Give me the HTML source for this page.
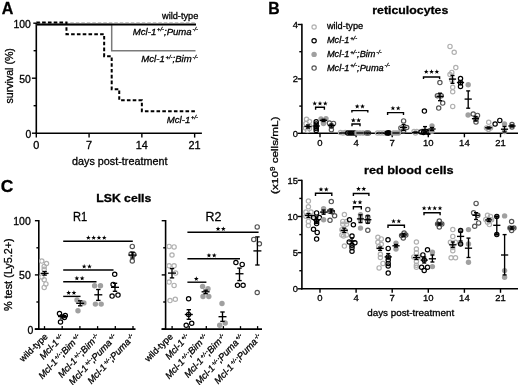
<!DOCTYPE html>
<html><head><meta charset="utf-8"><style>
html,body{margin:0;padding:0;background:#fff;overflow:hidden;}
svg{display:block;font-family:"Liberation Sans", sans-serif;will-change:transform;}
text{stroke:#000;stroke-width:0.3px;}
</style></head><body>
<svg width="520" height="385" viewBox="0 0 520 385">
<rect width="520" height="385" fill="#fff"/>
<text x="1.80" y="14.10" font-size="17" text-anchor="start" font-weight="bold" font-style="normal" fill="#000" textLength="11.6" lengthAdjust="spacingAndGlyphs" >A</text>
<line x1="36.30" y1="23.00" x2="36.30" y2="134.05" stroke="#000" stroke-width="1.6" />
<line x1="35.50" y1="133.30" x2="201.90" y2="133.30" stroke="#000" stroke-width="1.6" />
<line x1="31.90" y1="133.20" x2="36.30" y2="133.20" stroke="#000" stroke-width="1.4" />
<line x1="31.90" y1="78.20" x2="36.30" y2="78.20" stroke="#000" stroke-width="1.4" />
<line x1="33.30" y1="23.20" x2="36.30" y2="23.20" stroke="#000" stroke-width="1.4" />
<line x1="33.60" y1="105.70" x2="36.30" y2="105.70" stroke="#000" stroke-width="1.4" />
<line x1="33.60" y1="50.70" x2="36.30" y2="50.70" stroke="#000" stroke-width="1.4" />
<line x1="36.30" y1="133.30" x2="36.30" y2="137.60" stroke="#000" stroke-width="1.4" />
<line x1="89.08" y1="133.30" x2="89.08" y2="137.60" stroke="#000" stroke-width="1.4" />
<line x1="141.86" y1="133.30" x2="141.86" y2="137.60" stroke="#000" stroke-width="1.4" />
<line x1="194.64" y1="133.30" x2="194.64" y2="137.60" stroke="#000" stroke-width="1.4" />
<text x="31.30" y="137.70" font-size="10.4" text-anchor="end" font-weight="normal" font-style="normal" fill="#000" >0</text>
<text x="30.80" y="82.50" font-size="10.4" text-anchor="end" font-weight="normal" font-style="normal" fill="#000" >50</text>
<text x="30.80" y="27.50" font-size="10.4" text-anchor="end" font-weight="normal" font-style="normal" fill="#000" >100</text>
<text x="36.30" y="148.50" font-size="10.9" text-anchor="middle" font-weight="normal" font-style="normal" fill="#000" >0</text>
<text x="89.08" y="148.50" font-size="10.9" text-anchor="middle" font-weight="normal" font-style="normal" fill="#000" >7</text>
<text x="141.86" y="148.50" font-size="10.9" text-anchor="middle" font-weight="normal" font-style="normal" fill="#000" >14</text>
<text x="194.64" y="148.50" font-size="10.9" text-anchor="middle" font-weight="normal" font-style="normal" fill="#000" >21</text>
<text x="119.70" y="165.00" font-size="10.8" text-anchor="middle" font-weight="normal" font-style="normal" fill="#000" >days post-treatment</text>
<text transform="translate(13.2,75.8) rotate(-90)" font-size="10.6" text-anchor="middle">survival (%)</text>
<line x1="37.30" y1="22.50" x2="195.50" y2="22.50" stroke="#c4c4c4" stroke-width="1.2" stroke-dasharray="3.5 2"/>
<polyline points="36.30,24.40 111.70,24.40 111.70,50.70 195.50,50.70" fill="none" stroke="#7a7a7a" stroke-width="1.5" />
<line x1="36.30" y1="24.60" x2="196.00" y2="24.60" stroke="#000" stroke-width="2.0" />
<polyline points="36.30,22.60 66.46,22.60 66.46,34.20 104.16,34.20 104.16,56.20 111.70,56.20 111.70,89.20 119.24,89.20 119.24,100.20 141.86,100.20 141.86,111.20 195.50,111.20" fill="none" stroke="#000" stroke-width="2.0" stroke-dasharray="3.6 2.2"/>
<text x="198.30" y="19.20" font-size="9.2" text-anchor="end" font-weight="normal" font-style="normal" fill="#000" >wild-type</text>
<text x="198.00" y="34.60" font-size="9.6" text-anchor="end" font-weight="normal" font-style="italic" fill="#000" >Mcl-1<tspan font-size="5.8" dy="-3.2" dx="0.8">+/-</tspan><tspan dy="3.2">;Puma</tspan><tspan font-size="5.8" dy="-3.2" dx="0.8">-/-</tspan></text>
<text x="198.00" y="61.80" font-size="9.6" text-anchor="end" font-weight="normal" font-style="italic" fill="#000" >Mcl-1<tspan font-size="5.8" dy="-3.2" dx="0.8">+/-</tspan><tspan dy="3.2">;Bim</tspan><tspan font-size="5.8" dy="-3.2" dx="0.8">-/-</tspan></text>
<text x="198.00" y="122.60" font-size="9.6" text-anchor="end" font-weight="normal" font-style="italic" fill="#000" >Mcl-1<tspan font-size="5.8" dy="-3.2" dx="0.8">+/-</tspan></text>
<text x="268.20" y="14.10" font-size="17" text-anchor="start" font-weight="bold" font-style="normal" fill="#000" textLength="11.4" lengthAdjust="spacingAndGlyphs" >B</text>
<text x="410.30" y="14.00" font-size="11.4" text-anchor="middle" font-weight="bold" font-style="normal" fill="#000" textLength="76" lengthAdjust="spacingAndGlyphs" >reticulocytes</text>
<text x="408.80" y="174.20" font-size="10.8" text-anchor="middle" font-weight="bold" font-style="normal" fill="#000" textLength="89.5" lengthAdjust="spacingAndGlyphs" >red blood cells</text>
<line x1="301.90" y1="23.80" x2="301.90" y2="134.05" stroke="#000" stroke-width="1.6" />
<line x1="301.10" y1="133.30" x2="518.00" y2="133.30" stroke="#000" stroke-width="1.6" />
<line x1="297.60" y1="133.30" x2="301.90" y2="133.30" stroke="#000" stroke-width="1.4" />
<text x="297.90" y="136.60" font-size="9.3" text-anchor="end" font-weight="normal" font-style="normal" fill="#000" >0</text>
<line x1="297.60" y1="78.90" x2="301.90" y2="78.90" stroke="#000" stroke-width="1.4" />
<text x="297.90" y="82.20" font-size="9.3" text-anchor="end" font-weight="normal" font-style="normal" fill="#000" >2</text>
<line x1="297.60" y1="24.50" x2="301.90" y2="24.50" stroke="#000" stroke-width="1.4" />
<text x="297.90" y="27.80" font-size="9.3" text-anchor="end" font-weight="normal" font-style="normal" fill="#000" >4</text>
<line x1="299.30" y1="106.10" x2="301.90" y2="106.10" stroke="#000" stroke-width="1.4" />
<line x1="299.30" y1="51.70" x2="301.90" y2="51.70" stroke="#000" stroke-width="1.4" />
<line x1="320.00" y1="133.30" x2="320.00" y2="137.30" stroke="#000" stroke-width="1.4" />
<text x="320.00" y="145.50" font-size="9.5" text-anchor="middle" font-weight="normal" font-style="normal" fill="#000" >0</text>
<line x1="356.10" y1="133.30" x2="356.10" y2="137.30" stroke="#000" stroke-width="1.4" />
<text x="356.10" y="145.50" font-size="9.5" text-anchor="middle" font-weight="normal" font-style="normal" fill="#000" >4</text>
<line x1="392.20" y1="133.30" x2="392.20" y2="137.30" stroke="#000" stroke-width="1.4" />
<text x="392.20" y="145.50" font-size="9.5" text-anchor="middle" font-weight="normal" font-style="normal" fill="#000" >7</text>
<line x1="428.30" y1="133.30" x2="428.30" y2="137.30" stroke="#000" stroke-width="1.4" />
<text x="428.30" y="145.50" font-size="9.5" text-anchor="middle" font-weight="normal" font-style="normal" fill="#000" >10</text>
<line x1="464.40" y1="133.30" x2="464.40" y2="137.30" stroke="#000" stroke-width="1.4" />
<text x="464.40" y="145.50" font-size="9.5" text-anchor="middle" font-weight="normal" font-style="normal" fill="#000" >14</text>
<line x1="500.50" y1="133.30" x2="500.50" y2="137.30" stroke="#000" stroke-width="1.4" />
<text x="500.50" y="145.50" font-size="9.5" text-anchor="middle" font-weight="normal" font-style="normal" fill="#000" >21</text>
<line x1="301.90" y1="179.65" x2="301.90" y2="289.55" stroke="#000" stroke-width="1.6" />
<line x1="301.10" y1="288.80" x2="518.00" y2="288.80" stroke="#000" stroke-width="1.6" />
<line x1="297.60" y1="288.80" x2="301.90" y2="288.80" stroke="#000" stroke-width="1.4" />
<text x="297.90" y="292.10" font-size="9.3" text-anchor="end" font-weight="normal" font-style="normal" fill="#000" >0</text>
<line x1="297.60" y1="252.65" x2="301.90" y2="252.65" stroke="#000" stroke-width="1.4" />
<text x="297.90" y="255.95" font-size="9.3" text-anchor="end" font-weight="normal" font-style="normal" fill="#000" >5</text>
<line x1="297.60" y1="216.50" x2="301.90" y2="216.50" stroke="#000" stroke-width="1.4" />
<text x="297.90" y="219.80" font-size="9.3" text-anchor="end" font-weight="normal" font-style="normal" fill="#000" >10</text>
<line x1="297.60" y1="180.35" x2="301.90" y2="180.35" stroke="#000" stroke-width="1.4" />
<text x="297.90" y="183.65" font-size="9.3" text-anchor="end" font-weight="normal" font-style="normal" fill="#000" >15</text>
<line x1="299.30" y1="270.73" x2="301.90" y2="270.73" stroke="#000" stroke-width="1.4" />
<line x1="299.30" y1="234.58" x2="301.90" y2="234.58" stroke="#000" stroke-width="1.4" />
<line x1="299.30" y1="198.43" x2="301.90" y2="198.43" stroke="#000" stroke-width="1.4" />
<line x1="320.00" y1="288.80" x2="320.00" y2="292.80" stroke="#000" stroke-width="1.4" />
<text x="320.00" y="301.20" font-size="9.5" text-anchor="middle" font-weight="normal" font-style="normal" fill="#000" >0</text>
<line x1="356.10" y1="288.80" x2="356.10" y2="292.80" stroke="#000" stroke-width="1.4" />
<text x="356.10" y="301.20" font-size="9.5" text-anchor="middle" font-weight="normal" font-style="normal" fill="#000" >4</text>
<line x1="392.20" y1="288.80" x2="392.20" y2="292.80" stroke="#000" stroke-width="1.4" />
<text x="392.20" y="301.20" font-size="9.5" text-anchor="middle" font-weight="normal" font-style="normal" fill="#000" >7</text>
<line x1="428.30" y1="288.80" x2="428.30" y2="292.80" stroke="#000" stroke-width="1.4" />
<text x="428.30" y="301.20" font-size="9.5" text-anchor="middle" font-weight="normal" font-style="normal" fill="#000" >10</text>
<line x1="464.40" y1="288.80" x2="464.40" y2="292.80" stroke="#000" stroke-width="1.4" />
<text x="464.40" y="301.20" font-size="9.5" text-anchor="middle" font-weight="normal" font-style="normal" fill="#000" >14</text>
<line x1="500.50" y1="288.80" x2="500.50" y2="292.80" stroke="#000" stroke-width="1.4" />
<text x="500.50" y="301.20" font-size="9.5" text-anchor="middle" font-weight="normal" font-style="normal" fill="#000" >21</text>
<text x="410.70" y="316.20" font-size="9.8" text-anchor="middle" font-weight="normal" font-style="normal" fill="#000" textLength="87" lengthAdjust="spacingAndGlyphs" >days post-treatment</text>
<text transform="translate(278.4,155.2) rotate(-90)" font-size="9.9" text-anchor="middle" textLength="77.4" lengthAdjust="spacingAndGlyphs">(x10<tspan font-size="6.8" dy="-3.7">9</tspan><tspan dy="3.7"> cells/mL)</tspan></text>
<circle cx="306.50" cy="119.30" r="2.15" fill="none" stroke="#b0b0b0" stroke-width="1.2"/>
<circle cx="309.50" cy="121.50" r="2.15" fill="none" stroke="#b0b0b0" stroke-width="1.2"/>
<circle cx="306.00" cy="123.50" r="2.15" fill="none" stroke="#b0b0b0" stroke-width="1.2"/>
<circle cx="309.50" cy="126.00" r="2.15" fill="none" stroke="#b0b0b0" stroke-width="1.2"/>
<circle cx="305.50" cy="128.00" r="2.15" fill="none" stroke="#b0b0b0" stroke-width="1.2"/>
<circle cx="309.50" cy="128.50" r="2.15" fill="none" stroke="#b0b0b0" stroke-width="1.2"/>
<circle cx="307.50" cy="130.50" r="2.15" fill="none" stroke="#b0b0b0" stroke-width="1.2"/>
<line x1="304.40" y1="126.50" x2="311.60" y2="126.50" stroke="#000" stroke-width="1.35" />
<line x1="308.00" y1="125.00" x2="308.00" y2="128.00" stroke="#000" stroke-width="1.35" />
<line x1="306.00" y1="125.00" x2="310.00" y2="125.00" stroke="#000" stroke-width="1.35" />
<line x1="306.00" y1="128.00" x2="310.00" y2="128.00" stroke="#000" stroke-width="1.35" />
<circle cx="316.20" cy="121.70" r="2.15" fill="none" stroke="#000" stroke-width="1.2"/>
<circle cx="316.20" cy="124.00" r="2.15" fill="none" stroke="#000" stroke-width="1.2"/>
<circle cx="316.20" cy="126.90" r="2.15" fill="none" stroke="#000" stroke-width="1.2"/>
<circle cx="316.20" cy="128.60" r="2.15" fill="none" stroke="#000" stroke-width="1.2"/>
<circle cx="316.20" cy="130.50" r="2.15" fill="none" stroke="#000" stroke-width="1.2"/>
<line x1="312.60" y1="126.00" x2="319.80" y2="126.00" stroke="#000" stroke-width="1.35" />
<line x1="316.20" y1="124.00" x2="316.20" y2="128.00" stroke="#000" stroke-width="1.35" />
<line x1="314.20" y1="124.00" x2="318.20" y2="124.00" stroke="#000" stroke-width="1.35" />
<line x1="314.20" y1="128.00" x2="318.20" y2="128.00" stroke="#000" stroke-width="1.35" />
<circle cx="321.00" cy="118.90" r="2.70" fill="#a0a0a0"/>
<circle cx="326.00" cy="118.60" r="2.70" fill="#a0a0a0"/>
<circle cx="323.50" cy="122.40" r="2.70" fill="#a0a0a0"/>
<circle cx="323.50" cy="123.50" r="2.70" fill="#a0a0a0"/>
<line x1="319.90" y1="120.30" x2="327.10" y2="120.30" stroke="#000" stroke-width="1.35" />
<line x1="323.50" y1="119.30" x2="323.50" y2="121.50" stroke="#000" stroke-width="1.35" />
<line x1="321.50" y1="119.30" x2="325.50" y2="119.30" stroke="#000" stroke-width="1.35" />
<line x1="321.50" y1="121.50" x2="325.50" y2="121.50" stroke="#000" stroke-width="1.35" />
<circle cx="329.40" cy="123.10" r="2.15" fill="none" stroke="#555" stroke-width="1.2"/>
<circle cx="333.50" cy="123.40" r="2.15" fill="none" stroke="#555" stroke-width="1.2"/>
<circle cx="331.40" cy="126.20" r="2.15" fill="none" stroke="#555" stroke-width="1.2"/>
<circle cx="331.40" cy="129.70" r="2.15" fill="none" stroke="#555" stroke-width="1.2"/>
<line x1="327.80" y1="125.50" x2="335.00" y2="125.50" stroke="#000" stroke-width="1.35" />
<line x1="331.40" y1="124.00" x2="331.40" y2="127.00" stroke="#000" stroke-width="1.35" />
<line x1="329.40" y1="124.00" x2="333.40" y2="124.00" stroke="#000" stroke-width="1.35" />
<line x1="329.40" y1="127.00" x2="333.40" y2="127.00" stroke="#000" stroke-width="1.35" />
<circle cx="340.50" cy="132.50" r="2.15" fill="none" stroke="#b0b0b0" stroke-width="1.2"/>
<circle cx="343.00" cy="133.00" r="2.15" fill="none" stroke="#b0b0b0" stroke-width="1.2"/>
<circle cx="345.20" cy="132.50" r="2.15" fill="none" stroke="#b0b0b0" stroke-width="1.2"/>
<line x1="339.40" y1="133.00" x2="346.60" y2="133.00" stroke="#000" stroke-width="1.35" />
<circle cx="347.70" cy="133.00" r="2.15" fill="none" stroke="#000" stroke-width="1.2"/>
<circle cx="350.00" cy="133.00" r="2.15" fill="none" stroke="#000" stroke-width="1.2"/>
<circle cx="352.20" cy="133.00" r="2.15" fill="none" stroke="#000" stroke-width="1.2"/>
<circle cx="354.50" cy="133.00" r="2.15" fill="none" stroke="#000" stroke-width="1.2"/>
<line x1="347.40" y1="133.00" x2="354.60" y2="133.00" stroke="#000" stroke-width="1.35" />
<circle cx="357.00" cy="133.00" r="2.70" fill="#a0a0a0"/>
<circle cx="360.00" cy="133.00" r="2.70" fill="#a0a0a0"/>
<circle cx="363.00" cy="133.00" r="2.70" fill="#a0a0a0"/>
<line x1="356.40" y1="133.00" x2="363.60" y2="133.00" stroke="#000" stroke-width="1.35" />
<circle cx="366.50" cy="133.00" r="2.15" fill="none" stroke="#555" stroke-width="1.2"/>
<circle cx="368.50" cy="133.00" r="2.15" fill="none" stroke="#555" stroke-width="1.2"/>
<line x1="363.90" y1="133.00" x2="371.10" y2="133.00" stroke="#000" stroke-width="1.35" />
<circle cx="377.50" cy="133.00" r="2.15" fill="none" stroke="#b0b0b0" stroke-width="1.2"/>
<circle cx="380.50" cy="133.00" r="2.15" fill="none" stroke="#b0b0b0" stroke-width="1.2"/>
<circle cx="383.50" cy="133.00" r="2.15" fill="none" stroke="#b0b0b0" stroke-width="1.2"/>
<line x1="376.90" y1="133.00" x2="384.10" y2="133.00" stroke="#000" stroke-width="1.35" />
<circle cx="387.20" cy="133.00" r="2.85" fill="#000"/>
<circle cx="388.80" cy="132.80" r="2.85" fill="#000"/>
<circle cx="393.50" cy="133.00" r="2.70" fill="#a0a0a0"/>
<circle cx="396.00" cy="133.00" r="2.70" fill="#a0a0a0"/>
<circle cx="398.50" cy="133.00" r="2.70" fill="#a0a0a0"/>
<line x1="392.40" y1="133.00" x2="399.60" y2="133.00" stroke="#000" stroke-width="1.35" />
<circle cx="403.60" cy="120.90" r="2.15" fill="none" stroke="#555" stroke-width="1.2"/>
<circle cx="400.90" cy="127.90" r="2.15" fill="none" stroke="#555" stroke-width="1.2"/>
<circle cx="406.70" cy="127.50" r="2.15" fill="none" stroke="#555" stroke-width="1.2"/>
<circle cx="403.60" cy="131.00" r="2.15" fill="none" stroke="#555" stroke-width="1.2"/>
<line x1="400.00" y1="127.50" x2="407.20" y2="127.50" stroke="#000" stroke-width="1.35" />
<line x1="403.60" y1="124.50" x2="403.60" y2="130.50" stroke="#000" stroke-width="1.35" />
<line x1="401.60" y1="124.50" x2="405.60" y2="124.50" stroke="#000" stroke-width="1.35" />
<line x1="401.60" y1="130.50" x2="405.60" y2="130.50" stroke="#000" stroke-width="1.35" />
<circle cx="414.00" cy="131.50" r="2.15" fill="none" stroke="#b0b0b0" stroke-width="1.2"/>
<circle cx="416.80" cy="131.50" r="2.15" fill="none" stroke="#b0b0b0" stroke-width="1.2"/>
<circle cx="415.50" cy="133.00" r="2.15" fill="none" stroke="#b0b0b0" stroke-width="1.2"/>
<line x1="411.90" y1="132.50" x2="419.10" y2="132.50" stroke="#000" stroke-width="1.35" />
<line x1="415.50" y1="132.00" x2="415.50" y2="133.00" stroke="#000" stroke-width="1.35" />
<line x1="413.50" y1="132.00" x2="417.50" y2="132.00" stroke="#000" stroke-width="1.35" />
<line x1="413.50" y1="133.00" x2="417.50" y2="133.00" stroke="#000" stroke-width="1.35" />
<circle cx="424.40" cy="111.10" r="2.15" fill="none" stroke="#000" stroke-width="1.2"/>
<circle cx="421.00" cy="132.00" r="2.15" fill="none" stroke="#000" stroke-width="1.2"/>
<circle cx="423.50" cy="132.50" r="2.15" fill="none" stroke="#000" stroke-width="1.2"/>
<circle cx="426.00" cy="132.00" r="2.15" fill="none" stroke="#000" stroke-width="1.2"/>
<circle cx="428.50" cy="132.50" r="2.15" fill="none" stroke="#000" stroke-width="1.2"/>
<line x1="421.40" y1="129.50" x2="428.60" y2="129.50" stroke="#000" stroke-width="1.35" />
<line x1="425.00" y1="126.60" x2="425.00" y2="132.50" stroke="#000" stroke-width="1.35" />
<line x1="423.00" y1="126.60" x2="427.00" y2="126.60" stroke="#000" stroke-width="1.35" />
<line x1="423.00" y1="132.50" x2="427.00" y2="132.50" stroke="#000" stroke-width="1.35" />
<circle cx="432.00" cy="126.00" r="2.70" fill="#a0a0a0"/>
<circle cx="432.00" cy="131.30" r="2.70" fill="#a0a0a0"/>
<line x1="428.40" y1="129.00" x2="435.60" y2="129.00" stroke="#000" stroke-width="1.35" />
<line x1="432.00" y1="127.50" x2="432.00" y2="130.50" stroke="#000" stroke-width="1.35" />
<line x1="430.00" y1="127.50" x2="434.00" y2="127.50" stroke="#000" stroke-width="1.35" />
<line x1="430.00" y1="130.50" x2="434.00" y2="130.50" stroke="#000" stroke-width="1.35" />
<circle cx="439.90" cy="82.60" r="2.15" fill="none" stroke="#555" stroke-width="1.2"/>
<circle cx="437.40" cy="95.70" r="2.15" fill="none" stroke="#555" stroke-width="1.2"/>
<circle cx="441.20" cy="95.70" r="2.15" fill="none" stroke="#555" stroke-width="1.2"/>
<circle cx="442.70" cy="103.10" r="2.15" fill="none" stroke="#555" stroke-width="1.2"/>
<circle cx="438.70" cy="108.10" r="2.15" fill="none" stroke="#555" stroke-width="1.2"/>
<line x1="436.40" y1="96.30" x2="443.60" y2="96.30" stroke="#000" stroke-width="1.35" />
<line x1="440.00" y1="93.20" x2="440.00" y2="100.70" stroke="#000" stroke-width="1.35" />
<line x1="438.00" y1="93.20" x2="442.00" y2="93.20" stroke="#000" stroke-width="1.35" />
<line x1="438.00" y1="100.70" x2="442.00" y2="100.70" stroke="#000" stroke-width="1.35" />
<circle cx="450.00" cy="46.40" r="2.15" fill="none" stroke="#b0b0b0" stroke-width="1.2"/>
<circle cx="454.20" cy="52.20" r="2.15" fill="none" stroke="#b0b0b0" stroke-width="1.2"/>
<circle cx="455.80" cy="67.60" r="2.15" fill="none" stroke="#b0b0b0" stroke-width="1.2"/>
<circle cx="451.80" cy="72.40" r="2.15" fill="none" stroke="#b0b0b0" stroke-width="1.2"/>
<circle cx="450.00" cy="74.50" r="2.15" fill="none" stroke="#b0b0b0" stroke-width="1.2"/>
<circle cx="451.80" cy="80.00" r="2.15" fill="none" stroke="#b0b0b0" stroke-width="1.2"/>
<circle cx="452.70" cy="87.30" r="2.15" fill="none" stroke="#b0b0b0" stroke-width="1.2"/>
<circle cx="452.70" cy="91.80" r="2.15" fill="none" stroke="#b0b0b0" stroke-width="1.2"/>
<circle cx="452.70" cy="106.40" r="2.15" fill="none" stroke="#b0b0b0" stroke-width="1.2"/>
<line x1="448.90" y1="79.10" x2="456.10" y2="79.10" stroke="#000" stroke-width="1.35" />
<line x1="452.50" y1="75.50" x2="452.50" y2="83.30" stroke="#000" stroke-width="1.35" />
<line x1="450.50" y1="75.50" x2="454.50" y2="75.50" stroke="#000" stroke-width="1.35" />
<line x1="450.50" y1="83.30" x2="454.50" y2="83.30" stroke="#000" stroke-width="1.35" />
<circle cx="460.50" cy="78.50" r="2.15" fill="none" stroke="#000" stroke-width="1.2"/>
<circle cx="460.50" cy="82.70" r="2.15" fill="none" stroke="#000" stroke-width="1.2"/>
<circle cx="460.50" cy="86.40" r="2.15" fill="none" stroke="#000" stroke-width="1.2"/>
<line x1="456.90" y1="82.50" x2="464.10" y2="82.50" stroke="#000" stroke-width="1.35" />
<line x1="460.50" y1="80.50" x2="460.50" y2="84.50" stroke="#000" stroke-width="1.35" />
<line x1="458.50" y1="80.50" x2="462.50" y2="80.50" stroke="#000" stroke-width="1.35" />
<line x1="458.50" y1="84.50" x2="462.50" y2="84.50" stroke="#000" stroke-width="1.35" />
<circle cx="468.20" cy="84.70" r="2.70" fill="#a0a0a0"/>
<circle cx="468.10" cy="115.00" r="2.70" fill="#a0a0a0"/>
<line x1="464.60" y1="99.10" x2="471.80" y2="99.10" stroke="#000" stroke-width="1.35" />
<line x1="468.20" y1="90.90" x2="468.20" y2="108.20" stroke="#000" stroke-width="1.35" />
<line x1="466.20" y1="90.90" x2="470.20" y2="90.90" stroke="#000" stroke-width="1.35" />
<line x1="466.20" y1="108.20" x2="470.20" y2="108.20" stroke="#000" stroke-width="1.35" />
<circle cx="473.20" cy="114.00" r="2.15" fill="none" stroke="#555" stroke-width="1.2"/>
<circle cx="477.50" cy="115.40" r="2.15" fill="none" stroke="#555" stroke-width="1.2"/>
<circle cx="476.00" cy="118.70" r="2.15" fill="none" stroke="#555" stroke-width="1.2"/>
<circle cx="476.00" cy="122.00" r="2.15" fill="none" stroke="#555" stroke-width="1.2"/>
<line x1="471.90" y1="118.70" x2="479.10" y2="118.70" stroke="#000" stroke-width="1.35" />
<line x1="475.50" y1="116.50" x2="475.50" y2="121.00" stroke="#000" stroke-width="1.35" />
<line x1="473.50" y1="116.50" x2="477.50" y2="116.50" stroke="#000" stroke-width="1.35" />
<line x1="473.50" y1="121.00" x2="477.50" y2="121.00" stroke="#000" stroke-width="1.35" />
<circle cx="488.70" cy="122.20" r="2.15" fill="none" stroke="#b0b0b0" stroke-width="1.2"/>
<circle cx="486.50" cy="128.00" r="2.15" fill="none" stroke="#b0b0b0" stroke-width="1.2"/>
<circle cx="490.50" cy="128.00" r="2.15" fill="none" stroke="#b0b0b0" stroke-width="1.2"/>
<circle cx="488.50" cy="129.50" r="2.15" fill="none" stroke="#b0b0b0" stroke-width="1.2"/>
<line x1="485.00" y1="127.80" x2="492.20" y2="127.80" stroke="#000" stroke-width="1.35" />
<line x1="488.60" y1="127.00" x2="488.60" y2="128.80" stroke="#000" stroke-width="1.35" />
<line x1="486.60" y1="127.00" x2="490.60" y2="127.00" stroke="#000" stroke-width="1.35" />
<line x1="486.60" y1="128.80" x2="490.60" y2="128.80" stroke="#000" stroke-width="1.35" />
<circle cx="495.10" cy="124.00" r="2.15" fill="none" stroke="#000" stroke-width="1.2"/>
<circle cx="499.80" cy="120.40" r="2.15" fill="none" stroke="#000" stroke-width="1.2"/>
<circle cx="504.50" cy="124.00" r="2.70" fill="#a0a0a0"/>
<circle cx="504.50" cy="131.50" r="2.70" fill="#a0a0a0"/>
<line x1="500.90" y1="129.20" x2="508.10" y2="129.20" stroke="#000" stroke-width="1.35" />
<line x1="504.50" y1="126.50" x2="504.50" y2="132.00" stroke="#000" stroke-width="1.35" />
<line x1="502.50" y1="126.50" x2="506.50" y2="126.50" stroke="#000" stroke-width="1.35" />
<line x1="502.50" y1="132.00" x2="506.50" y2="132.00" stroke="#000" stroke-width="1.35" />
<circle cx="512.00" cy="124.50" r="2.15" fill="none" stroke="#555" stroke-width="1.2"/>
<circle cx="512.00" cy="127.00" r="2.15" fill="none" stroke="#555" stroke-width="1.2"/>
<line x1="508.40" y1="126.00" x2="515.60" y2="126.00" stroke="#000" stroke-width="1.35" />
<line x1="512.00" y1="125.00" x2="512.00" y2="127.00" stroke="#000" stroke-width="1.35" />
<line x1="510.00" y1="125.00" x2="514.00" y2="125.00" stroke="#000" stroke-width="1.35" />
<line x1="510.00" y1="127.00" x2="514.00" y2="127.00" stroke="#000" stroke-width="1.35" />
<circle cx="308.40" cy="201.10" r="2.15" fill="none" stroke="#b0b0b0" stroke-width="1.2"/>
<circle cx="308.40" cy="206.70" r="2.15" fill="none" stroke="#b0b0b0" stroke-width="1.2"/>
<circle cx="305.90" cy="212.10" r="2.15" fill="none" stroke="#b0b0b0" stroke-width="1.2"/>
<circle cx="311.00" cy="212.10" r="2.15" fill="none" stroke="#b0b0b0" stroke-width="1.2"/>
<circle cx="305.90" cy="216.30" r="2.15" fill="none" stroke="#b0b0b0" stroke-width="1.2"/>
<circle cx="311.00" cy="216.30" r="2.15" fill="none" stroke="#b0b0b0" stroke-width="1.2"/>
<circle cx="308.40" cy="221.40" r="2.15" fill="none" stroke="#b0b0b0" stroke-width="1.2"/>
<circle cx="308.40" cy="225.60" r="2.15" fill="none" stroke="#b0b0b0" stroke-width="1.2"/>
<line x1="304.80" y1="215.50" x2="312.00" y2="215.50" stroke="#000" stroke-width="1.35" />
<line x1="308.40" y1="213.50" x2="308.40" y2="217.50" stroke="#000" stroke-width="1.35" />
<line x1="306.40" y1="213.50" x2="310.40" y2="213.50" stroke="#000" stroke-width="1.35" />
<line x1="306.40" y1="217.50" x2="310.40" y2="217.50" stroke="#000" stroke-width="1.35" />
<circle cx="316.60" cy="212.90" r="2.15" fill="none" stroke="#000" stroke-width="1.2"/>
<circle cx="313.50" cy="217.50" r="2.15" fill="none" stroke="#000" stroke-width="1.2"/>
<circle cx="319.40" cy="217.50" r="2.15" fill="none" stroke="#000" stroke-width="1.2"/>
<circle cx="316.60" cy="221.40" r="2.15" fill="none" stroke="#000" stroke-width="1.2"/>
<circle cx="316.60" cy="223.60" r="2.15" fill="none" stroke="#000" stroke-width="1.2"/>
<circle cx="313.50" cy="229.30" r="2.15" fill="none" stroke="#000" stroke-width="1.2"/>
<circle cx="317.20" cy="232.40" r="2.15" fill="none" stroke="#000" stroke-width="1.2"/>
<circle cx="316.60" cy="239.10" r="2.15" fill="none" stroke="#000" stroke-width="1.2"/>
<line x1="313.00" y1="220.00" x2="320.20" y2="220.00" stroke="#000" stroke-width="1.35" />
<line x1="316.60" y1="217.00" x2="316.60" y2="223.00" stroke="#000" stroke-width="1.35" />
<line x1="314.60" y1="217.00" x2="318.60" y2="217.00" stroke="#000" stroke-width="1.35" />
<line x1="314.60" y1="223.00" x2="318.60" y2="223.00" stroke="#000" stroke-width="1.35" />
<circle cx="323.60" cy="208.70" r="2.70" fill="#a0a0a0"/>
<circle cx="323.60" cy="212.00" r="2.70" fill="#a0a0a0"/>
<circle cx="323.60" cy="219.70" r="2.70" fill="#a0a0a0"/>
<line x1="320.00" y1="212.10" x2="327.20" y2="212.10" stroke="#000" stroke-width="1.35" />
<line x1="323.60" y1="210.00" x2="323.60" y2="214.20" stroke="#000" stroke-width="1.35" />
<line x1="321.60" y1="210.00" x2="325.60" y2="210.00" stroke="#000" stroke-width="1.35" />
<line x1="321.60" y1="214.20" x2="325.60" y2="214.20" stroke="#000" stroke-width="1.35" />
<circle cx="331.30" cy="201.60" r="2.15" fill="none" stroke="#555" stroke-width="1.2"/>
<circle cx="329.60" cy="211.30" r="2.15" fill="none" stroke="#555" stroke-width="1.2"/>
<circle cx="332.40" cy="212.10" r="2.15" fill="none" stroke="#555" stroke-width="1.2"/>
<circle cx="334.60" cy="215.80" r="2.15" fill="none" stroke="#555" stroke-width="1.2"/>
<circle cx="330.00" cy="220.20" r="2.15" fill="none" stroke="#555" stroke-width="1.2"/>
<line x1="327.70" y1="211.00" x2="334.90" y2="211.00" stroke="#000" stroke-width="1.35" />
<line x1="331.30" y1="209.00" x2="331.30" y2="213.00" stroke="#000" stroke-width="1.35" />
<line x1="329.30" y1="209.00" x2="333.30" y2="209.00" stroke="#000" stroke-width="1.35" />
<line x1="329.30" y1="213.00" x2="333.30" y2="213.00" stroke="#000" stroke-width="1.35" />
<circle cx="344.40" cy="214.60" r="2.15" fill="none" stroke="#b0b0b0" stroke-width="1.2"/>
<circle cx="342.80" cy="221.40" r="2.15" fill="none" stroke="#b0b0b0" stroke-width="1.2"/>
<circle cx="346.50" cy="221.40" r="2.15" fill="none" stroke="#b0b0b0" stroke-width="1.2"/>
<circle cx="342.80" cy="224.30" r="2.15" fill="none" stroke="#b0b0b0" stroke-width="1.2"/>
<circle cx="346.50" cy="224.30" r="2.15" fill="none" stroke="#b0b0b0" stroke-width="1.2"/>
<circle cx="341.90" cy="229.80" r="2.15" fill="none" stroke="#b0b0b0" stroke-width="1.2"/>
<circle cx="345.30" cy="230.70" r="2.15" fill="none" stroke="#b0b0b0" stroke-width="1.2"/>
<circle cx="341.90" cy="234.90" r="2.15" fill="none" stroke="#b0b0b0" stroke-width="1.2"/>
<circle cx="346.50" cy="234.90" r="2.15" fill="none" stroke="#b0b0b0" stroke-width="1.2"/>
<circle cx="343.60" cy="236.00" r="2.15" fill="none" stroke="#b0b0b0" stroke-width="1.2"/>
<circle cx="344.40" cy="246.10" r="2.15" fill="none" stroke="#b0b0b0" stroke-width="1.2"/>
<line x1="340.60" y1="230.30" x2="347.80" y2="230.30" stroke="#000" stroke-width="1.35" />
<line x1="344.20" y1="228.10" x2="344.20" y2="232.40" stroke="#000" stroke-width="1.35" />
<line x1="342.20" y1="228.10" x2="346.20" y2="228.10" stroke="#000" stroke-width="1.35" />
<line x1="342.20" y1="232.40" x2="346.20" y2="232.40" stroke="#000" stroke-width="1.35" />
<circle cx="349.50" cy="219.70" r="2.15" fill="none" stroke="#000" stroke-width="1.2"/>
<circle cx="353.40" cy="224.80" r="2.15" fill="none" stroke="#000" stroke-width="1.2"/>
<circle cx="352.00" cy="236.00" r="2.15" fill="none" stroke="#000" stroke-width="1.2"/>
<circle cx="349.20" cy="241.90" r="2.15" fill="none" stroke="#000" stroke-width="1.2"/>
<circle cx="354.90" cy="242.70" r="2.15" fill="none" stroke="#000" stroke-width="1.2"/>
<circle cx="352.00" cy="245.30" r="2.15" fill="none" stroke="#000" stroke-width="1.2"/>
<circle cx="352.00" cy="247.80" r="2.15" fill="none" stroke="#000" stroke-width="1.2"/>
<circle cx="352.00" cy="251.20" r="2.15" fill="none" stroke="#000" stroke-width="1.2"/>
<line x1="348.40" y1="241.00" x2="355.60" y2="241.00" stroke="#000" stroke-width="1.35" />
<line x1="352.00" y1="238.00" x2="352.00" y2="244.00" stroke="#000" stroke-width="1.35" />
<line x1="350.00" y1="238.00" x2="354.00" y2="238.00" stroke="#000" stroke-width="1.35" />
<line x1="350.00" y1="244.00" x2="354.00" y2="244.00" stroke="#000" stroke-width="1.35" />
<circle cx="360.50" cy="214.60" r="2.70" fill="#a0a0a0"/>
<circle cx="360.50" cy="217.50" r="2.70" fill="#a0a0a0"/>
<circle cx="360.50" cy="220.50" r="2.70" fill="#a0a0a0"/>
<circle cx="360.50" cy="228.10" r="2.70" fill="#a0a0a0"/>
<line x1="356.90" y1="218.90" x2="364.10" y2="218.90" stroke="#000" stroke-width="1.35" />
<line x1="360.50" y1="214.80" x2="360.50" y2="222.60" stroke="#000" stroke-width="1.35" />
<line x1="358.50" y1="214.80" x2="362.50" y2="214.80" stroke="#000" stroke-width="1.35" />
<line x1="358.50" y1="222.60" x2="362.50" y2="222.60" stroke="#000" stroke-width="1.35" />
<circle cx="367.80" cy="209.60" r="2.15" fill="none" stroke="#555" stroke-width="1.2"/>
<circle cx="367.80" cy="217.00" r="2.15" fill="none" stroke="#555" stroke-width="1.2"/>
<circle cx="367.80" cy="221.50" r="2.15" fill="none" stroke="#555" stroke-width="1.2"/>
<circle cx="367.80" cy="230.30" r="2.15" fill="none" stroke="#555" stroke-width="1.2"/>
<line x1="364.20" y1="219.70" x2="371.40" y2="219.70" stroke="#000" stroke-width="1.35" />
<line x1="367.80" y1="215.80" x2="367.80" y2="223.20" stroke="#000" stroke-width="1.35" />
<line x1="365.80" y1="215.80" x2="369.80" y2="215.80" stroke="#000" stroke-width="1.35" />
<line x1="365.80" y1="223.20" x2="369.80" y2="223.20" stroke="#000" stroke-width="1.35" />
<circle cx="377.90" cy="237.20" r="2.15" fill="none" stroke="#b0b0b0" stroke-width="1.2"/>
<circle cx="381.30" cy="238.90" r="2.15" fill="none" stroke="#b0b0b0" stroke-width="1.2"/>
<circle cx="377.90" cy="242.20" r="2.15" fill="none" stroke="#b0b0b0" stroke-width="1.2"/>
<circle cx="381.30" cy="244.30" r="2.15" fill="none" stroke="#b0b0b0" stroke-width="1.2"/>
<circle cx="378.80" cy="246.50" r="2.15" fill="none" stroke="#b0b0b0" stroke-width="1.2"/>
<circle cx="380.40" cy="254.30" r="2.15" fill="none" stroke="#b0b0b0" stroke-width="1.2"/>
<circle cx="380.40" cy="257.50" r="2.15" fill="none" stroke="#b0b0b0" stroke-width="1.2"/>
<circle cx="383.00" cy="263.40" r="2.15" fill="none" stroke="#b0b0b0" stroke-width="1.2"/>
<circle cx="379.10" cy="267.90" r="2.15" fill="none" stroke="#b0b0b0" stroke-width="1.2"/>
<line x1="376.50" y1="248.40" x2="383.70" y2="248.40" stroke="#000" stroke-width="1.35" />
<line x1="380.10" y1="247.10" x2="380.10" y2="250.40" stroke="#000" stroke-width="1.35" />
<line x1="378.10" y1="247.10" x2="382.10" y2="247.10" stroke="#000" stroke-width="1.35" />
<line x1="378.10" y1="250.40" x2="382.10" y2="250.40" stroke="#000" stroke-width="1.35" />
<circle cx="388.00" cy="239.70" r="2.15" fill="none" stroke="#000" stroke-width="1.2"/>
<circle cx="388.20" cy="248.40" r="2.15" fill="none" stroke="#000" stroke-width="1.2"/>
<circle cx="388.20" cy="256.90" r="2.15" fill="none" stroke="#000" stroke-width="1.2"/>
<circle cx="388.20" cy="260.10" r="2.15" fill="none" stroke="#000" stroke-width="1.2"/>
<circle cx="388.20" cy="263.40" r="2.15" fill="none" stroke="#000" stroke-width="1.2"/>
<circle cx="388.20" cy="266.00" r="2.15" fill="none" stroke="#000" stroke-width="1.2"/>
<circle cx="388.20" cy="273.10" r="2.15" fill="none" stroke="#000" stroke-width="1.2"/>
<line x1="384.60" y1="256.90" x2="391.80" y2="256.90" stroke="#000" stroke-width="1.35" />
<line x1="388.20" y1="253.60" x2="388.20" y2="258.80" stroke="#000" stroke-width="1.35" />
<line x1="386.20" y1="253.60" x2="390.20" y2="253.60" stroke="#000" stroke-width="1.35" />
<line x1="386.20" y1="258.80" x2="390.20" y2="258.80" stroke="#000" stroke-width="1.35" />
<circle cx="396.00" cy="243.10" r="2.70" fill="#a0a0a0"/>
<circle cx="396.00" cy="249.00" r="2.70" fill="#a0a0a0"/>
<line x1="392.40" y1="245.80" x2="399.60" y2="245.80" stroke="#000" stroke-width="1.35" />
<line x1="396.00" y1="244.50" x2="396.00" y2="247.00" stroke="#000" stroke-width="1.35" />
<line x1="394.00" y1="244.50" x2="398.00" y2="244.50" stroke="#000" stroke-width="1.35" />
<line x1="394.00" y1="247.00" x2="398.00" y2="247.00" stroke="#000" stroke-width="1.35" />
<circle cx="401.60" cy="235.50" r="2.15" fill="none" stroke="#555" stroke-width="1.2"/>
<circle cx="404.10" cy="233.00" r="2.15" fill="none" stroke="#555" stroke-width="1.2"/>
<circle cx="405.80" cy="235.10" r="2.15" fill="none" stroke="#555" stroke-width="1.2"/>
<circle cx="403.30" cy="238.00" r="2.15" fill="none" stroke="#555" stroke-width="1.2"/>
<line x1="399.90" y1="235.00" x2="407.10" y2="235.00" stroke="#000" stroke-width="1.35" />
<line x1="403.50" y1="233.50" x2="403.50" y2="236.50" stroke="#000" stroke-width="1.35" />
<line x1="401.50" y1="233.50" x2="405.50" y2="233.50" stroke="#000" stroke-width="1.35" />
<line x1="401.50" y1="236.50" x2="405.50" y2="236.50" stroke="#000" stroke-width="1.35" />
<circle cx="416.40" cy="242.00" r="2.15" fill="none" stroke="#b0b0b0" stroke-width="1.2"/>
<circle cx="416.40" cy="249.10" r="2.15" fill="none" stroke="#b0b0b0" stroke-width="1.2"/>
<circle cx="416.40" cy="252.70" r="2.15" fill="none" stroke="#b0b0b0" stroke-width="1.2"/>
<circle cx="413.80" cy="256.90" r="2.15" fill="none" stroke="#b0b0b0" stroke-width="1.2"/>
<circle cx="418.40" cy="256.90" r="2.15" fill="none" stroke="#b0b0b0" stroke-width="1.2"/>
<circle cx="416.40" cy="261.40" r="2.15" fill="none" stroke="#b0b0b0" stroke-width="1.2"/>
<circle cx="416.40" cy="265.30" r="2.15" fill="none" stroke="#b0b0b0" stroke-width="1.2"/>
<circle cx="416.40" cy="267.30" r="2.15" fill="none" stroke="#b0b0b0" stroke-width="1.2"/>
<line x1="412.80" y1="257.50" x2="420.00" y2="257.50" stroke="#000" stroke-width="1.35" />
<line x1="416.40" y1="255.50" x2="416.40" y2="259.50" stroke="#000" stroke-width="1.35" />
<line x1="414.40" y1="255.50" x2="418.40" y2="255.50" stroke="#000" stroke-width="1.35" />
<line x1="414.40" y1="259.50" x2="418.40" y2="259.50" stroke="#000" stroke-width="1.35" />
<circle cx="427.50" cy="249.70" r="2.15" fill="none" stroke="#000" stroke-width="1.2"/>
<circle cx="422.90" cy="254.90" r="2.15" fill="none" stroke="#000" stroke-width="1.2"/>
<circle cx="424.20" cy="260.10" r="2.15" fill="none" stroke="#000" stroke-width="1.2"/>
<circle cx="421.60" cy="267.30" r="2.15" fill="none" stroke="#000" stroke-width="1.2"/>
<circle cx="427.50" cy="267.30" r="2.15" fill="none" stroke="#000" stroke-width="1.2"/>
<circle cx="424.20" cy="270.50" r="2.15" fill="none" stroke="#000" stroke-width="1.2"/>
<line x1="420.60" y1="260.10" x2="427.80" y2="260.10" stroke="#000" stroke-width="1.35" />
<line x1="424.20" y1="257.00" x2="424.20" y2="263.00" stroke="#000" stroke-width="1.35" />
<line x1="422.20" y1="257.00" x2="426.20" y2="257.00" stroke="#000" stroke-width="1.35" />
<line x1="422.20" y1="263.00" x2="426.20" y2="263.00" stroke="#000" stroke-width="1.35" />
<circle cx="432.40" cy="252.30" r="2.70" fill="#a0a0a0"/>
<circle cx="432.40" cy="266.60" r="2.70" fill="#a0a0a0"/>
<line x1="428.80" y1="258.80" x2="436.00" y2="258.80" stroke="#000" stroke-width="1.35" />
<line x1="432.40" y1="255.00" x2="432.40" y2="262.00" stroke="#000" stroke-width="1.35" />
<line x1="430.40" y1="255.00" x2="434.40" y2="255.00" stroke="#000" stroke-width="1.35" />
<line x1="430.40" y1="262.00" x2="434.40" y2="262.00" stroke="#000" stroke-width="1.35" />
<circle cx="439.30" cy="221.10" r="2.15" fill="none" stroke="#555" stroke-width="1.2"/>
<circle cx="437.60" cy="224.00" r="2.15" fill="none" stroke="#555" stroke-width="1.2"/>
<circle cx="441.80" cy="224.00" r="2.15" fill="none" stroke="#555" stroke-width="1.2"/>
<circle cx="439.30" cy="227.00" r="2.15" fill="none" stroke="#555" stroke-width="1.2"/>
<line x1="435.90" y1="224.00" x2="443.10" y2="224.00" stroke="#000" stroke-width="1.35" />
<line x1="439.50" y1="223.00" x2="439.50" y2="225.00" stroke="#000" stroke-width="1.35" />
<line x1="437.50" y1="223.00" x2="441.50" y2="223.00" stroke="#000" stroke-width="1.35" />
<line x1="437.50" y1="225.00" x2="441.50" y2="225.00" stroke="#000" stroke-width="1.35" />
<circle cx="452.80" cy="229.60" r="2.15" fill="none" stroke="#b0b0b0" stroke-width="1.2"/>
<circle cx="452.80" cy="236.40" r="2.15" fill="none" stroke="#b0b0b0" stroke-width="1.2"/>
<circle cx="450.40" cy="242.30" r="2.15" fill="none" stroke="#b0b0b0" stroke-width="1.2"/>
<circle cx="455.50" cy="242.30" r="2.15" fill="none" stroke="#b0b0b0" stroke-width="1.2"/>
<circle cx="452.80" cy="247.40" r="2.15" fill="none" stroke="#b0b0b0" stroke-width="1.2"/>
<circle cx="452.80" cy="250.70" r="2.15" fill="none" stroke="#b0b0b0" stroke-width="1.2"/>
<circle cx="451.10" cy="257.80" r="2.15" fill="none" stroke="#b0b0b0" stroke-width="1.2"/>
<circle cx="455.50" cy="257.80" r="2.15" fill="none" stroke="#b0b0b0" stroke-width="1.2"/>
<line x1="449.20" y1="244.80" x2="456.40" y2="244.80" stroke="#000" stroke-width="1.35" />
<line x1="452.80" y1="242.00" x2="452.80" y2="247.40" stroke="#000" stroke-width="1.35" />
<line x1="450.80" y1="242.00" x2="454.80" y2="242.00" stroke="#000" stroke-width="1.35" />
<line x1="450.80" y1="247.40" x2="454.80" y2="247.40" stroke="#000" stroke-width="1.35" />
<circle cx="460.60" cy="230.50" r="2.15" fill="#777" stroke="#000" stroke-width="1.2"/>
<circle cx="460.60" cy="244.00" r="2.15" fill="#777" stroke="#000" stroke-width="1.2"/>
<line x1="457.00" y1="236.40" x2="464.20" y2="236.40" stroke="#000" stroke-width="1.35" />
<line x1="460.60" y1="232.00" x2="460.60" y2="241.00" stroke="#000" stroke-width="1.35" />
<line x1="458.60" y1="232.00" x2="462.60" y2="232.00" stroke="#000" stroke-width="1.35" />
<line x1="458.60" y1="241.00" x2="462.60" y2="241.00" stroke="#000" stroke-width="1.35" />
<circle cx="468.50" cy="229.60" r="2.70" fill="#a0a0a0"/>
<circle cx="468.50" cy="244.00" r="2.70" fill="#a0a0a0"/>
<circle cx="468.50" cy="262.20" r="2.70" fill="#a0a0a0"/>
<line x1="464.90" y1="248.20" x2="472.10" y2="248.20" stroke="#000" stroke-width="1.35" />
<line x1="468.50" y1="238.10" x2="468.50" y2="257.50" stroke="#000" stroke-width="1.35" />
<line x1="466.50" y1="238.10" x2="470.50" y2="238.10" stroke="#000" stroke-width="1.35" />
<line x1="466.50" y1="257.50" x2="470.50" y2="257.50" stroke="#000" stroke-width="1.35" />
<circle cx="476.10" cy="203.40" r="2.15" fill="none" stroke="#555" stroke-width="1.2"/>
<circle cx="473.60" cy="212.70" r="2.15" fill="none" stroke="#555" stroke-width="1.2"/>
<circle cx="477.80" cy="215.30" r="2.15" fill="none" stroke="#555" stroke-width="1.2"/>
<circle cx="478.60" cy="222.90" r="2.15" fill="none" stroke="#555" stroke-width="1.2"/>
<circle cx="474.70" cy="226.30" r="2.15" fill="none" stroke="#555" stroke-width="1.2"/>
<line x1="472.40" y1="215.30" x2="479.60" y2="215.30" stroke="#000" stroke-width="1.35" />
<line x1="476.00" y1="212.70" x2="476.00" y2="219.50" stroke="#000" stroke-width="1.35" />
<line x1="474.00" y1="212.70" x2="478.00" y2="212.70" stroke="#000" stroke-width="1.35" />
<line x1="474.00" y1="219.50" x2="478.00" y2="219.50" stroke="#000" stroke-width="1.35" />
<circle cx="487.50" cy="215.20" r="2.15" fill="none" stroke="#b0b0b0" stroke-width="1.2"/>
<circle cx="490.50" cy="216.40" r="2.15" fill="none" stroke="#b0b0b0" stroke-width="1.2"/>
<circle cx="485.80" cy="219.50" r="2.15" fill="none" stroke="#b0b0b0" stroke-width="1.2"/>
<circle cx="491.60" cy="219.80" r="2.15" fill="none" stroke="#b0b0b0" stroke-width="1.2"/>
<circle cx="487.50" cy="222.20" r="2.15" fill="none" stroke="#b0b0b0" stroke-width="1.2"/>
<circle cx="489.40" cy="224.60" r="2.15" fill="none" stroke="#b0b0b0" stroke-width="1.2"/>
<line x1="485.20" y1="219.90" x2="492.40" y2="219.90" stroke="#000" stroke-width="1.35" />
<line x1="488.80" y1="218.50" x2="488.80" y2="221.50" stroke="#000" stroke-width="1.35" />
<line x1="486.80" y1="218.50" x2="490.80" y2="218.50" stroke="#000" stroke-width="1.35" />
<line x1="486.80" y1="221.50" x2="490.80" y2="221.50" stroke="#000" stroke-width="1.35" />
<circle cx="496.80" cy="216.40" r="2.15" fill="#777" stroke="#000" stroke-width="1.2"/>
<circle cx="496.80" cy="234.60" r="2.15" fill="#777" stroke="#000" stroke-width="1.2"/>
<line x1="493.20" y1="225.30" x2="500.40" y2="225.30" stroke="#000" stroke-width="1.35" />
<line x1="496.80" y1="216.40" x2="496.80" y2="234.60" stroke="#000" stroke-width="1.35" />
<line x1="494.80" y1="216.40" x2="498.80" y2="216.40" stroke="#000" stroke-width="1.35" />
<line x1="494.80" y1="234.60" x2="498.80" y2="234.60" stroke="#000" stroke-width="1.35" />
<circle cx="504.60" cy="215.90" r="2.70" fill="#a0a0a0"/>
<circle cx="504.60" cy="270.60" r="2.70" fill="#a0a0a0"/>
<circle cx="504.60" cy="277.20" r="2.70" fill="#a0a0a0"/>
<line x1="501.00" y1="255.00" x2="508.20" y2="255.00" stroke="#000" stroke-width="1.35" />
<line x1="504.60" y1="234.60" x2="504.60" y2="274.90" stroke="#000" stroke-width="1.35" />
<line x1="502.60" y1="234.60" x2="506.60" y2="234.60" stroke="#000" stroke-width="1.35" />
<line x1="502.60" y1="274.90" x2="506.60" y2="274.90" stroke="#000" stroke-width="1.35" />
<circle cx="511.60" cy="221.50" r="2.15" fill="none" stroke="#555" stroke-width="1.2"/>
<circle cx="510.00" cy="228.10" r="2.15" fill="none" stroke="#555" stroke-width="1.2"/>
<circle cx="513.90" cy="228.10" r="2.15" fill="none" stroke="#555" stroke-width="1.2"/>
<circle cx="511.60" cy="230.40" r="2.15" fill="none" stroke="#555" stroke-width="1.2"/>
<line x1="508.20" y1="228.00" x2="515.40" y2="228.00" stroke="#000" stroke-width="1.35" />
<line x1="511.80" y1="226.80" x2="511.80" y2="229.20" stroke="#000" stroke-width="1.35" />
<line x1="509.80" y1="226.80" x2="513.80" y2="226.80" stroke="#000" stroke-width="1.35" />
<line x1="509.80" y1="229.20" x2="513.80" y2="229.20" stroke="#000" stroke-width="1.35" />
<polyline points="315.60,109.80 315.60,107.30 324.40,107.30 324.40,109.80" fill="none" stroke="#000" stroke-width="1.4" />
<polygon points="314.70,101.05 315.32,102.70 317.08,102.78 315.70,103.87 316.17,105.57 314.70,104.60 313.23,105.57 313.70,103.87 312.32,102.78 314.08,102.70" fill="#000"/>
<polygon points="320.00,101.05 320.62,102.70 322.38,102.78 321.00,103.87 321.47,105.57 320.00,104.60 318.53,105.57 319.00,103.87 317.62,102.78 319.38,102.70" fill="#000"/>
<polygon points="325.30,101.05 325.92,102.70 327.68,102.78 326.30,103.87 326.77,105.57 325.30,104.60 323.83,105.57 324.30,103.87 322.92,102.78 324.68,102.70" fill="#000"/>
<polyline points="351.90,112.60 351.90,110.60 367.80,110.60 367.80,112.60" fill="none" stroke="#000" stroke-width="1.4" />
<polygon points="357.20,103.95 357.82,105.60 359.58,105.68 358.20,106.77 358.67,108.47 357.20,107.50 355.73,108.47 356.20,106.77 354.82,105.68 356.58,105.60" fill="#000"/>
<polygon points="362.50,103.95 363.12,105.60 364.88,105.68 363.50,106.77 363.97,108.47 362.50,107.50 361.03,108.47 361.50,106.77 360.12,105.68 361.88,105.60" fill="#000"/>
<polyline points="352.00,126.30 352.00,124.00 360.00,124.00 360.00,126.30" fill="none" stroke="#000" stroke-width="1.4" />
<polygon points="353.35,117.85 353.97,119.50 355.73,119.58 354.35,120.67 354.82,122.37 353.35,121.40 351.88,122.37 352.35,120.67 350.97,119.58 352.73,119.50" fill="#000"/>
<polygon points="358.65,117.85 359.27,119.50 361.03,119.58 359.65,120.67 360.12,122.37 358.65,121.40 357.18,122.37 357.65,120.67 356.27,119.58 358.03,119.50" fill="#000"/>
<polyline points="387.60,115.00 387.60,112.60 403.50,112.60 403.50,115.00" fill="none" stroke="#000" stroke-width="1.4" />
<polygon points="392.90,105.75 393.52,107.40 395.28,107.48 393.90,108.57 394.37,110.27 392.90,109.30 391.43,110.27 391.90,108.57 390.52,107.48 392.28,107.40" fill="#000"/>
<polygon points="398.20,105.75 398.82,107.40 400.58,107.48 399.20,108.57 399.67,110.27 398.20,109.30 396.73,110.27 397.20,108.57 395.82,107.48 397.58,107.40" fill="#000"/>
<polyline points="423.50,78.90 423.50,77.00 439.60,77.00 439.60,78.90" fill="none" stroke="#000" stroke-width="1.4" />
<polygon points="426.25,69.25 426.87,70.90 428.63,70.98 427.25,72.07 427.72,73.77 426.25,72.80 424.78,73.77 425.25,72.07 423.87,70.98 425.63,70.90" fill="#000"/>
<polygon points="431.55,69.25 432.17,70.90 433.93,70.98 432.55,72.07 433.02,73.77 431.55,72.80 430.08,73.77 430.55,72.07 429.17,70.98 430.93,70.90" fill="#000"/>
<polygon points="436.85,69.25 437.47,70.90 439.23,70.98 437.85,72.07 438.32,73.77 436.85,72.80 435.38,73.77 435.85,72.07 434.47,70.98 436.23,70.90" fill="#000"/>
<polyline points="315.50,196.00 315.50,193.20 331.80,193.20 331.80,196.00" fill="none" stroke="#000" stroke-width="1.4" />
<polygon points="321.00,186.95 321.62,188.60 323.38,188.68 322.00,189.77 322.47,191.47 321.00,190.50 319.53,191.47 320.00,189.77 318.62,188.68 320.38,188.60" fill="#000"/>
<polygon points="326.30,186.95 326.92,188.60 328.68,188.68 327.30,189.77 327.77,191.47 326.30,190.50 324.83,191.47 325.30,189.77 323.92,188.68 325.68,188.60" fill="#000"/>
<polyline points="353.40,196.00 353.40,193.50 368.90,193.50 368.90,196.00" fill="none" stroke="#000" stroke-width="1.4" />
<polygon points="358.50,186.45 359.12,188.10 360.88,188.18 359.50,189.27 359.97,190.97 358.50,190.00 357.03,190.97 357.50,189.27 356.12,188.18 357.88,188.10" fill="#000"/>
<polygon points="363.80,186.45 364.42,188.10 366.18,188.18 364.80,189.27 365.27,190.97 363.80,190.00 362.33,190.97 362.80,189.27 361.42,188.18 363.18,188.10" fill="#000"/>
<polyline points="353.40,209.60 353.40,206.70 361.30,206.70 361.30,209.60" fill="none" stroke="#000" stroke-width="1.4" />
<polygon points="354.70,199.85 355.32,201.50 357.08,201.58 355.70,202.67 356.17,204.37 354.70,203.40 353.23,204.37 353.70,202.67 352.32,201.58 354.08,201.50" fill="#000"/>
<polygon points="360.00,199.85 360.62,201.50 362.38,201.58 361.00,202.67 361.47,204.37 360.00,203.40 358.53,204.37 359.00,202.67 357.62,201.58 359.38,201.50" fill="#000"/>
<polyline points="388.00,227.90 388.00,225.30 404.40,225.30 404.40,227.90" fill="none" stroke="#000" stroke-width="1.4" />
<polygon points="393.55,218.75 394.17,220.40 395.93,220.48 394.55,221.57 395.02,223.27 393.55,222.30 392.08,223.27 392.55,221.57 391.17,220.48 392.93,220.40" fill="#000"/>
<polygon points="398.85,218.75 399.47,220.40 401.23,220.48 399.85,221.57 400.32,223.27 398.85,222.30 397.38,223.27 397.85,221.57 396.47,220.48 398.23,220.40" fill="#000"/>
<polyline points="424.00,215.20 424.00,212.70 440.10,212.70 440.10,215.20" fill="none" stroke="#000" stroke-width="1.4" />
<polygon points="424.10,205.75 424.72,207.40 426.48,207.48 425.10,208.57 425.57,210.27 424.10,209.30 422.63,210.27 423.10,208.57 421.72,207.48 423.48,207.40" fill="#000"/>
<polygon points="429.40,205.75 430.02,207.40 431.78,207.48 430.40,208.57 430.87,210.27 429.40,209.30 427.93,210.27 428.40,208.57 427.02,207.48 428.78,207.40" fill="#000"/>
<polygon points="434.70,205.75 435.32,207.40 437.08,207.48 435.70,208.57 436.17,210.27 434.70,209.30 433.23,210.27 433.70,208.57 432.32,207.48 434.08,207.40" fill="#000"/>
<polygon points="440.00,205.75 440.62,207.40 442.38,207.48 441.00,208.57 441.47,210.27 440.00,209.30 438.53,210.27 439.00,208.57 437.62,207.48 439.38,207.40" fill="#000"/>
<circle cx="314.10" cy="27.00" r="2.15" fill="none" stroke="#b0b0b0" stroke-width="1.2"/>
<text x="326.90" y="29.40" font-size="9.2" text-anchor="start" font-weight="normal" font-style="normal" fill="#000" >wild-type</text>
<circle cx="314.10" cy="40.70" r="2.15" fill="none" stroke="#000" stroke-width="1.2"/>
<text x="326.90" y="43.10" font-size="9.2" text-anchor="start" font-weight="normal" font-style="italic" fill="#000" >Mcl-1<tspan font-size="5.8" dy="-3.2" dx="0.8">+/-</tspan></text>
<circle cx="314.10" cy="54.40" r="2.70" fill="#a0a0a0"/>
<text x="326.90" y="56.80" font-size="9.2" text-anchor="start" font-weight="normal" font-style="italic" fill="#000" >Mcl-1<tspan font-size="5.8" dy="-3.2" dx="0.8">+/-</tspan><tspan dy="3.2">;Bim</tspan><tspan font-size="5.8" dy="-3.2" dx="0.8">-/-</tspan></text>
<circle cx="314.10" cy="68.10" r="2.15" fill="none" stroke="#555" stroke-width="1.2"/>
<text x="326.90" y="70.50" font-size="9.2" text-anchor="start" font-weight="normal" font-style="italic" fill="#000" >Mcl-1<tspan font-size="5.8" dy="-3.2" dx="0.8">+/-</tspan><tspan dy="3.2">;Puma</tspan><tspan font-size="5.8" dy="-3.2" dx="0.8">-/-</tspan></text>
<text x="0.80" y="192.40" font-size="17.2" text-anchor="start" font-weight="bold" font-style="normal" fill="#000" textLength="12.6" lengthAdjust="spacingAndGlyphs" >C</text>
<text x="123.80" y="201.90" font-size="10.8" text-anchor="middle" font-weight="bold" font-style="normal" fill="#000" textLength="55" lengthAdjust="spacingAndGlyphs" >LSK cells</text>
<text x="72.90" y="220.80" font-size="12.3" text-anchor="start" font-weight="normal" font-style="normal" fill="#000" textLength="14.2" lengthAdjust="spacingAndGlyphs" >R1</text>
<text x="205.50" y="221.20" font-size="12.6" text-anchor="start" font-weight="normal" font-style="normal" fill="#000" textLength="15.8" lengthAdjust="spacingAndGlyphs" >R2</text>
<line x1="38.80" y1="220.00" x2="38.80" y2="329.85" stroke="#000" stroke-width="1.6" />
<line x1="34.90" y1="329.10" x2="38.80" y2="329.10" stroke="#000" stroke-width="1.4" />
<text x="33.30" y="333.60" font-size="10.5" text-anchor="end" font-weight="normal" font-style="normal" fill="#000" >0</text>
<line x1="34.90" y1="274.90" x2="38.80" y2="274.90" stroke="#000" stroke-width="1.4" />
<text x="30.80" y="278.80" font-size="10.5" text-anchor="end" font-weight="normal" font-style="normal" fill="#000" >50</text>
<line x1="34.90" y1="220.70" x2="38.80" y2="220.70" stroke="#000" stroke-width="1.4" />
<text x="30.80" y="224.60" font-size="10.5" text-anchor="end" font-weight="normal" font-style="normal" fill="#000" >100</text>
<line x1="36.40" y1="302.00" x2="38.80" y2="302.00" stroke="#000" stroke-width="1.4" />
<line x1="36.40" y1="247.80" x2="38.80" y2="247.80" stroke="#000" stroke-width="1.4" />
<line x1="165.60" y1="220.00" x2="165.60" y2="329.85" stroke="#000" stroke-width="1.6" />
<line x1="161.70" y1="329.10" x2="165.60" y2="329.10" stroke="#000" stroke-width="1.4" />
<line x1="161.70" y1="274.90" x2="165.60" y2="274.90" stroke="#000" stroke-width="1.4" />
<line x1="161.70" y1="220.70" x2="165.60" y2="220.70" stroke="#000" stroke-width="1.4" />
<line x1="163.20" y1="302.00" x2="165.60" y2="302.00" stroke="#000" stroke-width="1.4" />
<line x1="163.20" y1="247.80" x2="165.60" y2="247.80" stroke="#000" stroke-width="1.4" />
<line x1="34.80" y1="329.10" x2="135.50" y2="329.10" stroke="#000" stroke-width="1.6" />
<line x1="161.60" y1="329.10" x2="262.00" y2="329.10" stroke="#000" stroke-width="1.6" />
<text transform="translate(12.4,274.7) rotate(-90)" font-size="10.3" text-anchor="middle" textLength="72.6" lengthAdjust="spacingAndGlyphs">% test (Ly5.2+)</text>
<circle cx="41.80" cy="261.10" r="2.15" fill="none" stroke="#b0b0b0" stroke-width="1.2"/>
<circle cx="46.50" cy="263.50" r="2.15" fill="none" stroke="#b0b0b0" stroke-width="1.2"/>
<circle cx="44.20" cy="266.40" r="2.15" fill="none" stroke="#b0b0b0" stroke-width="1.2"/>
<circle cx="44.20" cy="269.30" r="2.15" fill="none" stroke="#b0b0b0" stroke-width="1.2"/>
<circle cx="41.80" cy="276.90" r="2.15" fill="none" stroke="#b0b0b0" stroke-width="1.2"/>
<circle cx="44.20" cy="279.80" r="2.15" fill="none" stroke="#b0b0b0" stroke-width="1.2"/>
<circle cx="45.90" cy="283.90" r="2.15" fill="none" stroke="#b0b0b0" stroke-width="1.2"/>
<circle cx="44.20" cy="287.40" r="2.15" fill="none" stroke="#b0b0b0" stroke-width="1.2"/>
<line x1="40.60" y1="273.40" x2="48.60" y2="273.40" stroke="#000" stroke-width="1.35" />
<line x1="44.60" y1="271.60" x2="44.60" y2="275.10" stroke="#000" stroke-width="1.35" />
<line x1="42.40" y1="271.60" x2="46.80" y2="271.60" stroke="#000" stroke-width="1.35" />
<line x1="42.40" y1="275.10" x2="46.80" y2="275.10" stroke="#000" stroke-width="1.35" />
<circle cx="59.50" cy="313.60" r="2.15" fill="none" stroke="#000" stroke-width="1.2"/>
<circle cx="65.30" cy="315.60" r="2.15" fill="none" stroke="#000" stroke-width="1.2"/>
<circle cx="60.50" cy="322.00" r="2.15" fill="none" stroke="#000" stroke-width="1.2"/>
<circle cx="64.40" cy="317.50" r="2.15" fill="none" stroke="#000" stroke-width="1.2"/>
<line x1="58.00" y1="316.50" x2="66.00" y2="316.50" stroke="#000" stroke-width="1.35" />
<line x1="62.00" y1="315.00" x2="62.00" y2="318.00" stroke="#000" stroke-width="1.35" />
<line x1="59.80" y1="315.00" x2="64.20" y2="315.00" stroke="#000" stroke-width="1.35" />
<line x1="59.80" y1="318.00" x2="64.20" y2="318.00" stroke="#000" stroke-width="1.35" />
<circle cx="77.00" cy="300.00" r="2.70" fill="#a0a0a0"/>
<circle cx="83.90" cy="302.90" r="2.70" fill="#a0a0a0"/>
<circle cx="78.00" cy="310.70" r="2.70" fill="#a0a0a0"/>
<line x1="76.20" y1="303.30" x2="84.20" y2="303.30" stroke="#000" stroke-width="1.35" />
<line x1="80.20" y1="300.80" x2="80.20" y2="305.80" stroke="#000" stroke-width="1.35" />
<line x1="78.00" y1="300.80" x2="82.40" y2="300.80" stroke="#000" stroke-width="1.35" />
<line x1="78.00" y1="305.80" x2="82.40" y2="305.80" stroke="#000" stroke-width="1.35" />
<circle cx="94.60" cy="285.80" r="2.70" fill="#a0a0a0"/>
<circle cx="100.50" cy="285.80" r="2.70" fill="#a0a0a0"/>
<circle cx="95.40" cy="304.10" r="2.70" fill="#a0a0a0"/>
<circle cx="101.20" cy="304.10" r="2.70" fill="#a0a0a0"/>
<line x1="94.30" y1="294.80" x2="102.30" y2="294.80" stroke="#000" stroke-width="1.35" />
<line x1="98.30" y1="289.50" x2="98.30" y2="300.40" stroke="#000" stroke-width="1.35" />
<line x1="96.10" y1="289.50" x2="100.50" y2="289.50" stroke="#000" stroke-width="1.35" />
<line x1="96.10" y1="300.40" x2="100.50" y2="300.40" stroke="#000" stroke-width="1.35" />
<circle cx="114.70" cy="274.20" r="2.15" fill="none" stroke="#000" stroke-width="1.2"/>
<circle cx="113.10" cy="284.40" r="2.15" fill="none" stroke="#000" stroke-width="1.2"/>
<circle cx="112.10" cy="296.10" r="2.15" fill="none" stroke="#000" stroke-width="1.2"/>
<circle cx="118.00" cy="295.10" r="2.15" fill="none" stroke="#000" stroke-width="1.2"/>
<line x1="111.00" y1="287.30" x2="119.00" y2="287.30" stroke="#000" stroke-width="1.35" />
<line x1="115.00" y1="283.30" x2="115.00" y2="291.30" stroke="#000" stroke-width="1.35" />
<line x1="112.80" y1="283.30" x2="117.20" y2="283.30" stroke="#000" stroke-width="1.35" />
<line x1="112.80" y1="291.30" x2="117.20" y2="291.30" stroke="#000" stroke-width="1.35" />
<circle cx="132.30" cy="246.40" r="2.15" fill="none" stroke="#555" stroke-width="1.2"/>
<circle cx="131.10" cy="253.90" r="2.15" fill="none" stroke="#555" stroke-width="1.2"/>
<circle cx="133.80" cy="254.50" r="2.15" fill="none" stroke="#555" stroke-width="1.2"/>
<circle cx="132.30" cy="261.00" r="2.15" fill="none" stroke="#555" stroke-width="1.2"/>
<line x1="128.50" y1="255.10" x2="136.50" y2="255.10" stroke="#000" stroke-width="1.35" />
<line x1="132.50" y1="252.20" x2="132.50" y2="258.00" stroke="#000" stroke-width="1.35" />
<line x1="130.30" y1="252.20" x2="134.70" y2="252.20" stroke="#000" stroke-width="1.35" />
<line x1="130.30" y1="258.00" x2="134.70" y2="258.00" stroke="#000" stroke-width="1.35" />
<circle cx="169.10" cy="246.40" r="2.15" fill="none" stroke="#b0b0b0" stroke-width="1.2"/>
<circle cx="174.10" cy="246.90" r="2.15" fill="none" stroke="#b0b0b0" stroke-width="1.2"/>
<circle cx="172.00" cy="255.00" r="2.15" fill="none" stroke="#b0b0b0" stroke-width="1.2"/>
<circle cx="169.10" cy="265.70" r="2.15" fill="none" stroke="#b0b0b0" stroke-width="1.2"/>
<circle cx="174.10" cy="265.70" r="2.15" fill="none" stroke="#b0b0b0" stroke-width="1.2"/>
<circle cx="175.60" cy="273.10" r="2.15" fill="none" stroke="#b0b0b0" stroke-width="1.2"/>
<circle cx="169.10" cy="282.10" r="2.15" fill="none" stroke="#b0b0b0" stroke-width="1.2"/>
<circle cx="174.10" cy="285.40" r="2.15" fill="none" stroke="#b0b0b0" stroke-width="1.2"/>
<circle cx="170.00" cy="300.60" r="2.15" fill="none" stroke="#b0b0b0" stroke-width="1.2"/>
<circle cx="175.30" cy="299.30" r="2.15" fill="none" stroke="#b0b0b0" stroke-width="1.2"/>
<line x1="168.00" y1="273.10" x2="176.00" y2="273.10" stroke="#000" stroke-width="1.35" />
<line x1="172.00" y1="268.60" x2="172.00" y2="277.90" stroke="#000" stroke-width="1.35" />
<line x1="169.80" y1="268.60" x2="174.20" y2="268.60" stroke="#000" stroke-width="1.35" />
<line x1="169.80" y1="277.90" x2="174.20" y2="277.90" stroke="#000" stroke-width="1.35" />
<circle cx="188.60" cy="298.80" r="2.15" fill="none" stroke="#000" stroke-width="1.2"/>
<circle cx="188.60" cy="314.40" r="2.15" fill="none" stroke="#000" stroke-width="1.2"/>
<circle cx="186.20" cy="325.30" r="2.15" fill="none" stroke="#000" stroke-width="1.2"/>
<circle cx="191.70" cy="323.30" r="2.15" fill="none" stroke="#000" stroke-width="1.2"/>
<line x1="184.80" y1="314.50" x2="192.80" y2="314.50" stroke="#000" stroke-width="1.35" />
<line x1="188.80" y1="309.70" x2="188.80" y2="319.30" stroke="#000" stroke-width="1.35" />
<line x1="186.60" y1="309.70" x2="191.00" y2="309.70" stroke="#000" stroke-width="1.35" />
<line x1="186.60" y1="319.30" x2="191.00" y2="319.30" stroke="#000" stroke-width="1.35" />
<circle cx="202.60" cy="286.40" r="2.70" fill="#a0a0a0"/>
<circle cx="208.00" cy="288.70" r="2.70" fill="#a0a0a0"/>
<circle cx="203.00" cy="296.50" r="2.70" fill="#a0a0a0"/>
<circle cx="208.80" cy="296.50" r="2.70" fill="#a0a0a0"/>
<line x1="201.60" y1="291.80" x2="209.60" y2="291.80" stroke="#000" stroke-width="1.35" />
<line x1="205.60" y1="290.20" x2="205.60" y2="293.70" stroke="#000" stroke-width="1.35" />
<line x1="203.40" y1="290.20" x2="207.80" y2="290.20" stroke="#000" stroke-width="1.35" />
<line x1="203.40" y1="293.70" x2="207.80" y2="293.70" stroke="#000" stroke-width="1.35" />
<circle cx="222.00" cy="303.50" r="2.70" fill="#a0a0a0"/>
<circle cx="225.20" cy="323.00" r="2.70" fill="#a0a0a0"/>
<circle cx="219.70" cy="325.30" r="2.70" fill="#a0a0a0"/>
<line x1="218.50" y1="316.70" x2="226.50" y2="316.70" stroke="#000" stroke-width="1.35" />
<line x1="222.50" y1="312.00" x2="222.50" y2="321.40" stroke="#000" stroke-width="1.35" />
<line x1="220.30" y1="312.00" x2="224.70" y2="312.00" stroke="#000" stroke-width="1.35" />
<line x1="220.30" y1="321.40" x2="224.70" y2="321.40" stroke="#000" stroke-width="1.35" />
<circle cx="235.90" cy="262.50" r="2.15" fill="none" stroke="#000" stroke-width="1.2"/>
<circle cx="242.20" cy="264.40" r="2.15" fill="none" stroke="#000" stroke-width="1.2"/>
<circle cx="237.50" cy="285.30" r="2.15" fill="none" stroke="#000" stroke-width="1.2"/>
<circle cx="243.10" cy="285.30" r="2.15" fill="none" stroke="#000" stroke-width="1.2"/>
<line x1="235.50" y1="273.75" x2="243.50" y2="273.75" stroke="#000" stroke-width="1.35" />
<line x1="239.50" y1="268.10" x2="239.50" y2="280.60" stroke="#000" stroke-width="1.35" />
<line x1="237.30" y1="268.10" x2="241.70" y2="268.10" stroke="#000" stroke-width="1.35" />
<line x1="237.30" y1="280.60" x2="241.70" y2="280.60" stroke="#000" stroke-width="1.35" />
<circle cx="257.20" cy="226.90" r="2.15" fill="none" stroke="#555" stroke-width="1.2"/>
<circle cx="253.75" cy="239.40" r="2.15" fill="none" stroke="#555" stroke-width="1.2"/>
<circle cx="259.40" cy="243.75" r="2.15" fill="none" stroke="#555" stroke-width="1.2"/>
<circle cx="257.20" cy="292.50" r="2.15" fill="none" stroke="#555" stroke-width="1.2"/>
<line x1="253.40" y1="250.90" x2="261.40" y2="250.90" stroke="#000" stroke-width="1.35" />
<line x1="257.40" y1="236.90" x2="257.40" y2="265.00" stroke="#000" stroke-width="1.35" />
<line x1="255.20" y1="236.90" x2="259.60" y2="236.90" stroke="#000" stroke-width="1.35" />
<line x1="255.20" y1="265.00" x2="259.60" y2="265.00" stroke="#000" stroke-width="1.35" />
<line x1="63.20" y1="241.30" x2="132.80" y2="241.30" stroke="#000" stroke-width="1.4" />
<polygon points="88.35,235.25 88.97,236.90 90.73,236.98 89.35,238.07 89.82,239.77 88.35,238.80 86.88,239.77 87.35,238.07 85.97,236.98 87.73,236.90" fill="#000"/>
<polygon points="93.65,235.25 94.27,236.90 96.03,236.98 94.65,238.07 95.12,239.77 93.65,238.80 92.18,239.77 92.65,238.07 91.27,236.98 93.03,236.90" fill="#000"/>
<polygon points="98.95,235.25 99.57,236.90 101.33,236.98 99.95,238.07 100.42,239.77 98.95,238.80 97.48,239.77 97.95,238.07 96.57,236.98 98.33,236.90" fill="#000"/>
<polygon points="104.25,235.25 104.87,236.90 106.63,236.98 105.25,238.07 105.72,239.77 104.25,238.80 102.78,239.77 103.25,238.07 101.87,236.98 103.63,236.90" fill="#000"/>
<line x1="63.20" y1="270.00" x2="113.50" y2="270.00" stroke="#000" stroke-width="1.4" />
<polygon points="84.15,264.05 84.77,265.70 86.53,265.78 85.15,266.87 85.62,268.57 84.15,267.60 82.68,268.57 83.15,266.87 81.77,265.78 83.53,265.70" fill="#000"/>
<polygon points="89.45,264.05 90.07,265.70 91.83,265.78 90.45,266.87 90.92,268.57 89.45,267.60 87.98,268.57 88.45,266.87 87.07,265.78 88.83,265.70" fill="#000"/>
<line x1="63.20" y1="281.80" x2="96.50" y2="281.80" stroke="#000" stroke-width="1.4" />
<polygon points="76.85,275.85 77.47,277.50 79.23,277.58 77.85,278.67 78.32,280.37 76.85,279.40 75.38,280.37 75.85,278.67 74.47,277.58 76.23,277.50" fill="#000"/>
<polygon points="82.15,275.85 82.77,277.50 84.53,277.58 83.15,278.67 83.62,280.37 82.15,279.40 80.68,280.37 81.15,278.67 79.77,277.58 81.53,277.50" fill="#000"/>
<line x1="63.20" y1="296.40" x2="80.50" y2="296.40" stroke="#000" stroke-width="1.4" />
<polygon points="68.65,290.35 69.27,292.00 71.03,292.08 69.65,293.17 70.12,294.87 68.65,293.90 67.18,294.87 67.65,293.17 66.27,292.08 68.03,292.00" fill="#000"/>
<polygon points="73.95,290.35 74.57,292.00 76.33,292.08 74.95,293.17 75.42,294.87 73.95,293.90 72.48,294.87 72.95,293.17 71.57,292.08 73.33,292.00" fill="#000"/>
<line x1="187.40" y1="232.30" x2="258.60" y2="232.30" stroke="#000" stroke-width="1.4" />
<polygon points="218.05,226.45 218.67,228.10 220.43,228.18 219.05,229.27 219.52,230.97 218.05,230.00 216.58,230.97 217.05,229.27 215.67,228.18 217.43,228.10" fill="#000"/>
<polygon points="223.35,226.45 223.97,228.10 225.73,228.18 224.35,229.27 224.82,230.97 223.35,230.00 221.88,230.97 222.35,229.27 220.97,228.18 222.73,228.10" fill="#000"/>
<line x1="187.40" y1="258.70" x2="240.00" y2="258.70" stroke="#000" stroke-width="1.4" />
<polygon points="208.95,252.95 209.57,254.60 211.33,254.68 209.95,255.77 210.42,257.47 208.95,256.50 207.48,257.47 207.95,255.77 206.57,254.68 208.33,254.60" fill="#000"/>
<polygon points="214.25,252.95 214.87,254.60 216.63,254.68 215.25,255.77 215.72,257.47 214.25,256.50 212.78,257.47 213.25,255.77 211.87,254.68 213.63,254.60" fill="#000"/>
<line x1="187.40" y1="282.20" x2="206.40" y2="282.20" stroke="#000" stroke-width="1.4" />
<polygon points="196.30,276.35 196.92,278.00 198.68,278.08 197.30,279.17 197.77,280.87 196.30,279.90 194.83,280.87 195.30,279.17 193.92,278.08 195.68,278.00" fill="#000"/>
<line x1="44.50" y1="329.10" x2="44.50" y2="326.10" stroke="#000" stroke-width="1.3" />
<line x1="172.10" y1="329.10" x2="172.10" y2="326.10" stroke="#000" stroke-width="1.3" />
<line x1="62.20" y1="329.10" x2="62.20" y2="326.10" stroke="#000" stroke-width="1.3" />
<line x1="189.20" y1="329.10" x2="189.20" y2="326.10" stroke="#000" stroke-width="1.3" />
<line x1="79.90" y1="329.10" x2="79.90" y2="326.10" stroke="#000" stroke-width="1.3" />
<line x1="206.30" y1="329.10" x2="206.30" y2="326.10" stroke="#000" stroke-width="1.3" />
<line x1="97.60" y1="329.10" x2="97.60" y2="326.10" stroke="#000" stroke-width="1.3" />
<line x1="223.40" y1="329.10" x2="223.40" y2="326.10" stroke="#000" stroke-width="1.3" />
<line x1="115.30" y1="329.10" x2="115.30" y2="326.10" stroke="#000" stroke-width="1.3" />
<line x1="240.50" y1="329.10" x2="240.50" y2="326.10" stroke="#000" stroke-width="1.3" />
<line x1="133.00" y1="329.10" x2="133.00" y2="326.10" stroke="#000" stroke-width="1.3" />
<line x1="257.60" y1="329.10" x2="257.60" y2="326.10" stroke="#000" stroke-width="1.3" />
<text transform="translate(48.40,337.30) rotate(-44.5)" font-size="9.0" text-anchor="end">wild-type</text>
<text transform="translate(64.40,337.60) rotate(-47)" font-size="9.45" text-anchor="end" font-style="italic">Mcl-1<tspan font-size="5.7" dy="-2.9" dx="0.8">+/-</tspan><tspan dy="2.9"></tspan></text>
<text transform="translate(81.40,337.60) rotate(-47)" font-size="9.45" text-anchor="end" font-style="italic">Mcl-1<tspan font-size="5.7" dy="-2.9" dx="0.8">+/-</tspan><tspan dy="2.9">;Bim</tspan><tspan font-size="5.7" dy="-2.9" dx="0.8">+/-</tspan></text>
<text transform="translate(99.90,337.60) rotate(-47)" font-size="9.45" text-anchor="end" font-style="italic">Mcl-1<tspan font-size="5.7" dy="-2.9" dx="0.8">+/-</tspan><tspan dy="2.9">;Bim</tspan><tspan font-size="5.7" dy="-2.9" dx="0.8">-/-</tspan></text>
<text transform="translate(117.50,337.60) rotate(-47)" font-size="9.45" text-anchor="end" font-style="italic">Mcl-1<tspan font-size="5.7" dy="-2.9" dx="0.8">+/-</tspan><tspan dy="2.9">;Puma</tspan><tspan font-size="5.7" dy="-2.9" dx="0.8">+/-</tspan></text>
<text transform="translate(135.20,337.60) rotate(-47)" font-size="9.45" text-anchor="end" font-style="italic">Mcl-1<tspan font-size="5.7" dy="-2.9" dx="0.8">+/-</tspan><tspan dy="2.9">;Puma</tspan><tspan font-size="5.7" dy="-2.9" dx="0.8">-/-</tspan></text>
<text transform="translate(173.50,337.30) rotate(-44.5)" font-size="9.0" text-anchor="end">wild-type</text>
<text transform="translate(190.10,337.60) rotate(-47)" font-size="9.45" text-anchor="end" font-style="italic">Mcl-1<tspan font-size="5.7" dy="-2.9" dx="0.8">+/-</tspan><tspan dy="2.9"></tspan></text>
<text transform="translate(208.20,337.60) rotate(-47)" font-size="9.45" text-anchor="end" font-style="italic">Mcl-1<tspan font-size="5.7" dy="-2.9" dx="0.8">+/-</tspan><tspan dy="2.9">;Bim</tspan><tspan font-size="5.7" dy="-2.9" dx="0.8">+/-</tspan></text>
<text transform="translate(226.20,337.60) rotate(-47)" font-size="9.45" text-anchor="end" font-style="italic">Mcl-1<tspan font-size="5.7" dy="-2.9" dx="0.8">+/-</tspan><tspan dy="2.9">;Bim</tspan><tspan font-size="5.7" dy="-2.9" dx="0.8">-/-</tspan></text>
<text transform="translate(244.20,337.60) rotate(-47)" font-size="9.45" text-anchor="end" font-style="italic">Mcl-1<tspan font-size="5.7" dy="-2.9" dx="0.8">+/-</tspan><tspan dy="2.9">;Puma</tspan><tspan font-size="5.7" dy="-2.9" dx="0.8">+/-</tspan></text>
<text transform="translate(262.10,337.60) rotate(-47)" font-size="9.45" text-anchor="end" font-style="italic">Mcl-1<tspan font-size="5.7" dy="-2.9" dx="0.8">+/-</tspan><tspan dy="2.9">;Puma</tspan><tspan font-size="5.7" dy="-2.9" dx="0.8">-/-</tspan></text>
</svg></body></html>
